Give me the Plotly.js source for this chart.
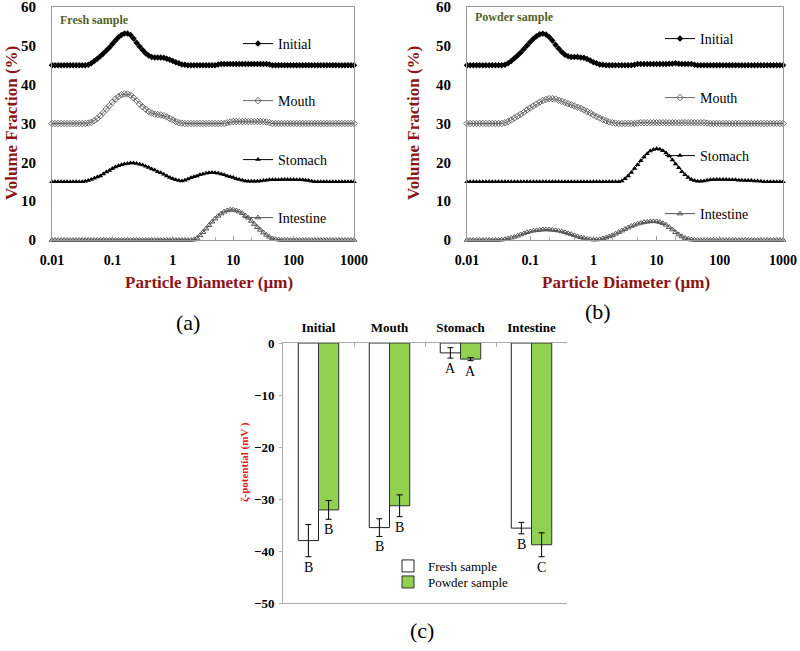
<!DOCTYPE html>
<html>
<head>
<meta charset="utf-8">
<script src="https://cdn.plot.ly/plotly-3.0.1.min.js"></script>
<style>
  body { margin: 0; background: #fff; }
  #plotArea { width: 800px; height: 651px; }
</style>
</head>
<body>
<div id="plotArea"></div>
<script>
// particle size classes (um)
var sizes = [
  0.01,0.01122,0.01259,0.01413,0.01585,0.01778,0.01995,0.02239,0.02512,0.02818,0.03162,0.03548,0.03981,0.04467,0.05012,0.05623,0.0631,0.07079,0.07943,0.08913,
  0.1,0.1122,0.1259,0.1413,0.1585,0.1778,0.1995,0.2239,0.2512,0.2818,0.3162,0.3548,0.3981,0.4467,0.5012,0.5623,0.631,0.7079,0.7943,0.8913,
  1,1.122,1.259,1.413,1.585,1.778,1.995,2.239,2.512,2.818,3.162,3.548,3.981,4.467,5.012,5.623,6.31,7.079,7.943,8.913,
  10,11.22,12.59,14.13,15.85,17.78,19.95,22.39,25.12,28.18,31.62,35.48,39.81,44.67,50.12,56.23,63.1,70.79,79.43,89.13,
  100,112.2,125.9,141.3,158.5,177.8,199.5,223.9,251.2,281.8,316.2,354.8,398.1,446.7,501.2,562.3,631,707.9,794.3,891.3,
  1000
];

var stageNames = ["Initial", "Mouth", "Stomach", "Intestine"];
var stageOffsets = [45, 30, 15, 0];   // curves are stacked in the figure

// volume fraction (%) - fresh sample
var freshInitial = [
  0,0,0,0,0,0,0,0,0,0,0,0,0.1,0.5,1.1,1.7,2.3,3.0,3.8,4.6,
  5.5,6.4,7.2,7.8,8.2,8.2,7.8,6.9,5.8,4.8,3.9,3.1,2.5,2.1,2.0,2.0,2.0,1.9,1.7,1.4,
  1.1,0.8,0.5,0.2,0.1,0,0,0,0,0,0,0,0,0,0,0.2,0.3,0.3,0.3,0.3,
  0.3,0.3,0.3,0.3,0.3,0.3,0.3,0.3,0.3,0.3,0.3,0.3,0.2,0,0,0,0,0,0,0,
  0,0,0,0,0,0,0,0,0,0,0,0,0,0,0,0,0,0,0,0,
  0
];
var freshMouth = [
  0,0,0,0,0,0,0,0,0,0,0,0,0.1,0.3,0.7,1.3,2.0,2.8,3.7,4.6,
  5.5,6.3,6.9,7.4,7.6,7.6,7.3,6.6,5.9,5.0,4.3,3.7,3.1,2.7,2.4,2.3,2.2,2.0,1.7,1.3,
  0.9,0.5,0.2,0.1,0,0,0,0,0,0,0,0,0,0,0,0,0,0,0.2,0.4,
  0.5,0.5,0.5,0.5,0.5,0.5,0.5,0.5,0.5,0.5,0.5,0.4,0.2,0,0,0,0,0,0,0,
  0,0,0,0,0,0,0,0,0,0,0,0,0,0,0,0,0,0,0,0,
  0
];
var freshStomach = [
  0,0,0,0,0,0,0,0,0,0,0,0.1,0.3,0.6,0.9,1.2,1.5,2.0,2.5,2.9,
  3.4,3.8,4.1,4.4,4.6,4.7,4.8,4.8,4.7,4.5,4.3,4.0,3.7,3.3,3.0,2.6,2.3,1.9,1.5,1.1,
  0.8,0.5,0.3,0.2,0.4,0.7,1.0,1.3,1.5,1.8,2.0,2.2,2.3,2.4,2.3,2.2,2.0,1.8,1.5,1.3,
  1.1,0.8,0.6,0.4,0.2,0.1,0.1,0.1,0.1,0.2,0.3,0.4,0.5,0.5,0.5,0.5,0.6,0.6,0.6,0.6,
  0.6,0.5,0.5,0.5,0.4,0.3,0.1,0,0,0,0,0,0,0,0,0,0,0,0,0,
  0
];
var freshIntestine = [
  0,0,0,0,0,0,0,0,0,0,0,0,0,0,0,0,0,0,0,0,
  0,0,0,0,0,0,0,0,0,0,0,0,0,0,0,0,0,0,0,0,
  0,0,0,0,0,0,0,0.1,0.5,1.2,2.0,2.9,3.8,4.7,5.5,6.2,6.8,7.3,7.6,7.8,
  7.8,7.6,7.3,6.9,6.3,5.7,4.9,4.1,3.3,2.6,1.9,1.3,0.8,0.4,0.2,0.1,0,0,0,0,
  0,0,0,0,0,0,0,0,0,0,0,0,0,0,0,0,0,0,0,0,
  0
];

// volume fraction (%) - powder sample
var powderInitial = [
  0,0,0,0,0,0,0,0,0,0,0,0,0.1,0.5,1.1,1.8,2.5,3.3,4.2,5.1,
  6.0,6.8,7.5,8.0,8.1,7.9,7.3,6.4,5.3,4.3,3.4,2.7,2.3,2.1,2.1,2.1,2.0,1.9,1.6,1.2,
  0.8,0.5,0.2,0.1,0,0,0,0,0,0,0,0,0,0.1,0.3,0.3,0.3,0.3,0.3,0.3,
  0.3,0.3,0.3,0.3,0.4,0.4,0.5,0.4,0.3,0.3,0.3,0.3,0.1,0,0,0,0,0,0,0,
  0,0,0,0,0,0,0,0,0,0,0,0,0,0,0,0,0,0,0,0,
  0
];
var powderMouth = [
  0,0,0,0,0,0,0,0,0,0,0,0,0.2,0.5,0.9,1.4,1.9,2.4,2.9,3.5,
  4.0,4.5,5.0,5.5,5.9,6.2,6.4,6.4,6.3,6.0,5.7,5.4,5.1,4.8,4.5,4.2,3.9,3.5,3.1,2.7,
  2.2,1.8,1.4,1.0,0.7,0.4,0.2,0.1,0,0,0,0,0,0,0.1,0.2,0.2,0.2,0.2,0.2,
  0.2,0.2,0.2,0.2,0.2,0.2,0.2,0.2,0.2,0.2,0.2,0.2,0.2,0.2,0.2,0.2,0.1,0,0,0,
  0,0,0,0,0,0,0,0,0,0,0,0,0,0,0,0,0,0,0,0,
  0
];
var powderStomach = [
  0,0,0,0,0,0,0,0,0,0,0,0,0,0,0,0,0,0,0,0,
  0,0,0,0,0,0,0,0,0,0,0,0,0,0,0,0,0,0,0,0,
  0,0,0,0,0,0,0,0,0,0.2,0.8,1.5,2.4,3.4,4.4,5.4,6.4,7.2,7.9,8.3,
  8.5,8.4,8.0,7.4,6.6,5.6,4.6,3.6,2.6,1.8,1.1,0.6,0.3,0.1,0.1,0.2,0.4,0.5,0.6,0.6,
  0.6,0.6,0.6,0.5,0.5,0.5,0.4,0.4,0.3,0.3,0.3,0.2,0.2,0.1,0,0,0,0,0,0,
  0
];
var powderIntestine = [
  0,0,0,0,0,0,0,0,0,0,0,0.1,0.2,0.4,0.6,0.8,1.1,1.4,1.7,2.0,
  2.2,2.4,2.5,2.6,2.7,2.7,2.7,2.6,2.5,2.4,2.2,2.0,1.7,1.5,1.2,0.9,0.7,0.5,0.3,0.2,
  0.1,0.1,0.2,0.4,0.6,0.9,1.2,1.6,2.0,2.4,2.8,3.2,3.6,3.9,4.2,4.4,4.6,4.7,4.8,4.8,
  4.8,4.6,4.3,3.9,3.3,2.7,2.0,1.4,0.9,0.5,0.3,0.1,0,0,0,0,0,0,0,0,
  0,0,0,0,0,0,0,0,0,0,0,0,0,0,0,0,0,0,0,0,
  0
];

// zeta potential (mV)
var zetaFresh = [-38.0, -35.5, -1.9, -35.6];
var zetaFreshErr = [3.1, 1.7, 1.0, 1.1];
var zetaPowder = [-32.1, -31.3, -3.1, -38.8];
var zetaPowderErr = [1.8, 2.1, 0.3, 2.3];
var freshLetters = ["B", "B", "A", "B"];
var powderLetters = ["B", "B", "A", "C"];

var sizeTicks = [0.01, 0.1, 1, 10, 100, 1000];
var sizeTickText = ["0.01", "0.1", "1", "10", "100", "1000"];
var fractionTicks = [0, 10, 20, 30, 40, 50, 60];

var W = 800, H = 651;
var serif = "Liberation Serif";
var darkRed = "#8a1515";

function px(x) { return x / W; }
function py(y) { return 1 - y / H; }

var markerStyles = [
  {symbol: "diamond", color: "#000", line: {width: 0}},
  {symbol: "diamond-open", color: "#666", line: {width: 1}},
  {symbol: "triangle-up", color: "#000", line: {width: 0}},
  {symbol: "triangle-up-open", color: "#555", line: {width: 1}}
];
var lineColors = ["#000", "#666", "#000", "#555"];

var freshSeries = [freshInitial, freshMouth, freshStomach, freshIntestine];
var powderSeries = [powderInitial, powderMouth, powderStomach, powderIntestine];

var traces = [];
function addPanel(series, xa, ya, legendStart) {
  series.forEach(function(vals, k) {
    var off = stageOffsets[k];
    var id = legendStart + k;
    traces.push({
      x: sizes,
      y: vals.map(v => v + off),
      xaxis: xa, yaxis: ya,
      type: "scatter",
      mode: "lines+markers",
      name: stageNames[k],
      legend: id === 1 ? "legend" : "legend" + id,
      line: {color: lineColors[k], width: 1},
      marker: Object.assign({size: 5}, markerStyles[k]),
      cliponaxis: false,
      hoverinfo: "x+y"
    });
  });
}
addPanel(freshSeries, "x", "y", 1);
addPanel(powderSeries, "x2", "y2", 5);

// zeta potential bars
traces.push({
  x: stageNames, y: zetaFresh, type: "bar", name: "Fresh sample",
  xaxis: "x3", yaxis: "y3", legend: "legend9",
  marker: {color: "#fff", line: {color: "#222", width: 1}},
  error_y: {type: "data", array: zetaFreshErr, visible: true, color: "#000", thickness: 1, width: 3}
});
traces.push({
  x: stageNames, y: zetaPowder, type: "bar", name: "Powder sample",
  xaxis: "x3", yaxis: "y3", legend: "legend10",
  marker: {color: "#92d050", line: {color: "#333", width: 1}},
  error_y: {type: "data", array: zetaPowderErr, visible: true, color: "#000", thickness: 1, width: 3}
});

function legendAt(xpx, ypx, size) {
  return {
    x: px(xpx), y: py(ypx), xanchor: "left", yanchor: "middle",
    bgcolor: "rgba(0,0,0,0)", borderwidth: 0, itemwidth: 30,
    font: {family: serif, size: size || 14, color: "#000"}
  };
}

function psdX(domain) {
  return {
    type: "log", range: [-2, 3], domain: domain,
    tickmode: "array", tickvals: sizeTicks, ticktext: sizeTickText,
    ticks: "inside", ticklen: 4, tickcolor: "#999",
    minor: {ticks: "inside", ticklen: 3, tickcolor: "#aaa", showgrid: false},
    ticklabelstandoff: 7,
    tickfont: {family: serif, size: 14, color: "#000", weight: "bold"},
    showline: true, linecolor: "#999", linewidth: 1, mirror: true,
    showgrid: false, zeroline: false, fixedrange: true
  };
}
function psdY(anchor) {
  return {
    range: [0, 60], tickmode: "array", tickvals: fractionTicks,
    domain: [py(240), py(7)], anchor: anchor,
    ticks: "", ticklabelstandoff: 12, ticklabeloverflow: "allow",
    tickfont: {family: serif, size: 15, color: "#000", weight: "bold"},
    showline: true, linecolor: "#999", linewidth: 1, mirror: true,
    showgrid: false, zeroline: false, fixedrange: true
  };
}

var annotations = [];
function note(text, x, y, opts) {
  annotations.push(Object.assign({
    text: text, xref: "paper", yref: "paper", x: px(x), y: py(y),
    showarrow: false, xanchor: "center", yanchor: "middle"
  }, opts));
}
var titleFont = {family: serif, size: 17, color: darkRed, weight: "bold"};
note("Volume Fraction (%)", 12, 123, {textangle: -90, font: titleFont});
note("Volume Fraction (%)", 414, 123, {textangle: -90, font: titleFont});
note("Particle Diameter (µm)", 209, 283, {font: titleFont});
note("Particle Diameter (µm)", 626, 283, {font: titleFont});
note("Fresh sample", 58, 20, {xanchor: "left", font: {family: serif, size: 12, color: "#4f6228", weight: "bold"}});
note("Powder sample", 473, 17, {xanchor: "left", font: {family: serif, size: 12, color: "#4f6228", weight: "bold"}});
note("(a)", 188, 322, {font: {family: serif, size: 22, color: "#000"}});
note("(b)", 598, 312, {font: {family: serif, size: 22, color: "#000"}});
note("(c)", 422, 630, {font: {family: serif, size: 22, color: "#000"}});
note("ζ-potential (mV )", 244, 462, {textangle: -90, font: {family: serif, size: 11, color: "#e01e1e", weight: "bold"}});

// significance letters under the error bars
stageNames.forEach(function(stage, i) {
  annotations.push({
    text: freshLetters[i], xref: "x3", yref: "y3", x: stage, y: zetaFresh[i] - zetaFreshErr[i],
    xshift: -10, yshift: -1, yanchor: "top", showarrow: false,
    font: {family: serif, size: 14, color: "#000"}
  });
  annotations.push({
    text: powderLetters[i], xref: "x3", yref: "y3", x: stage, y: zetaPowder[i] - zetaPowderErr[i],
    xshift: 10, yshift: -1, yanchor: "top", showarrow: false,
    font: {family: serif, size: 14, color: "#000"}
  });
});

var layout = {
  width: W, height: H,
  margin: {l: 0, r: 0, t: 0, b: 0},
  paper_bgcolor: "#fff", plot_bgcolor: "#fff",
  showlegend: true,
  xaxis: Object.assign(psdX([px(52), px(354)]), {anchor: "y"}),
  yaxis: psdY("x"),
  xaxis2: Object.assign(psdX([px(467), px(783)]), {anchor: "y2"}),
  yaxis2: psdY("x2"),
  xaxis3: {
    domain: [px(283), px(567)], anchor: "y3", side: "top", type: "category",
    tickson: "boundaries", ticks: "inside", ticklen: 4, tickcolor: "#aaa",
    ticklabelstandoff: 5,
    tickfont: {family: serif, size: 13, color: "#000", weight: "bold"},
    showline: true, linecolor: "#aaa", linewidth: 1, mirror: true,
    showgrid: false, zeroline: false, fixedrange: true
  },
  yaxis3: {
    domain: [py(603), py(343)], anchor: "x3", range: [-50, 0], dtick: 10,
    ticks: "outside", ticklen: 3, tickcolor: "#aaa", ticklabelstandoff: 2,
    tickfont: {family: serif, size: 13, color: "#000", weight: "bold"},
    showline: true, linecolor: "#aaa", linewidth: 1,
    showgrid: false, zeroline: false, fixedrange: true
  },
  barmode: "group", bargap: 0.43, bargroupgap: 0,
  legend: legendAt(238, 44),
  legend2: legendAt(238, 101),
  legend3: legendAt(238, 160),
  legend4: legendAt(238, 218),
  legend5: legendAt(660, 39),
  legend6: legendAt(660, 98),
  legend7: legendAt(660, 156),
  legend8: legendAt(660, 214),
  legend9: legendAt(388, 566, 13),
  legend10: legendAt(388, 582, 13),
  annotations: annotations
};

Plotly.newPlot("plotArea", traces, layout, {displayModeBar: false, staticPlot: true});
</script>
</body>
</html>
